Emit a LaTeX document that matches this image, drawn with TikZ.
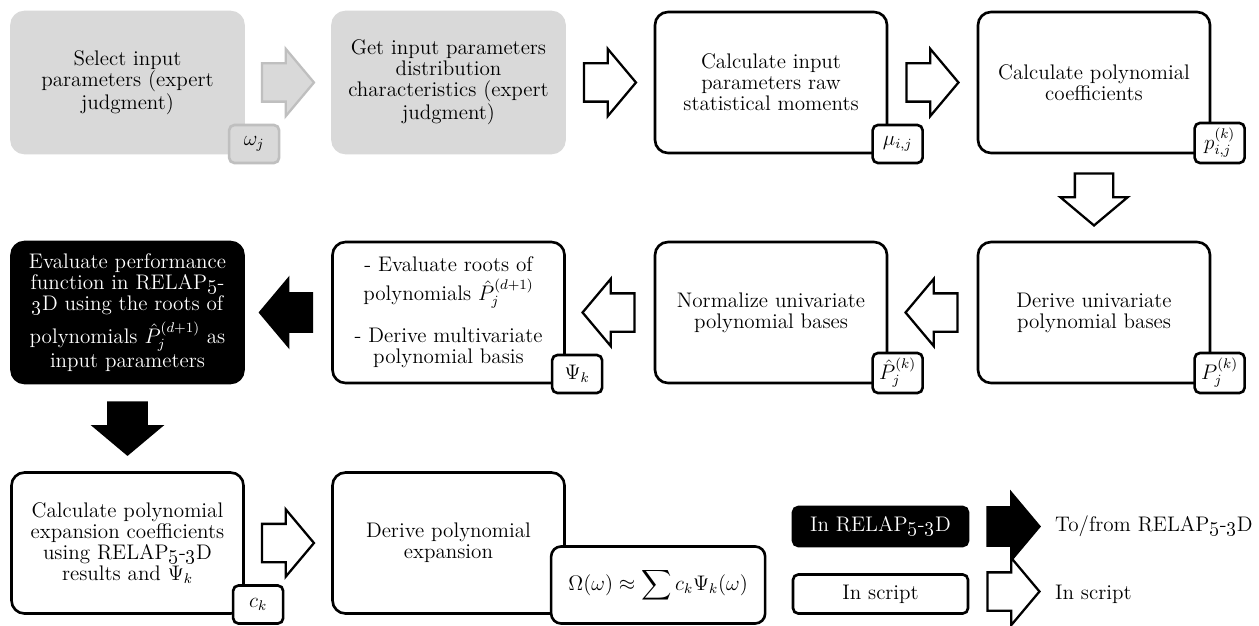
\documentclass[tikz,border=0pt]{standalone}
\usepackage{amsmath,amssymb}
\usetikzlibrary{shapes.arrows, positioning, calc}
\definecolor{boxgray}{HTML}{D9D9D9}
\definecolor{edgegray}{HTML}{BFBFBF}
\newcommand{\osn}[1]{\oldstylenums{#1}}
\newcommand{\relapname}{RELAP\osn{5}-\osn{3}D}

\begin{document}
\begin{tikzpicture}[
  font=\fontsize{12}{12}\selectfont,
  stepbox/.style={draw=black, line width=1.5pt, fill=white, rounded corners=0.26cm,
    minimum width=4.64cm, minimum height=2.82cm, align=center, inner sep=3pt},
  graybox/.style={stepbox, draw=boxgray, fill=boxgray},
  codebox/.style={stepbox, fill=black, text=white},
  tagbox/.style={draw=black, line width=1.5pt, fill=white, rounded corners=3pt,
    minimum width=1cm, minimum height=0.76cm, inner sep=3pt, anchor=south west},
  blockarr/.style={single arrow, draw=black, line width=1.3pt, fill=white,
    minimum width=1.3cm, minimum height=1.04cm, single arrow head extend=0.29cm,
    single arrow tip angle=100, inner xsep=0pt, inner ysep=0.36cm, anchor=tail},
  leftarr/.style={blockarr, shape border rotate=180},
  downarr/.style={blockarr, shape border rotate=270, inner xsep=0.36cm, inner ysep=0pt},
  codearr/.style={blockarr, fill=black},
  grayarr/.style={blockarr, draw=edgegray, fill=boxgray},
  keybox/.style={draw=black, line width=1.5pt, rounded corners=3pt,
    minimum width=3.5cm, minimum height=0.78cm, inner sep=2pt},
]

% Canvas
\fill[white] (0,0) rectangle (25.18,-12.5);
\useasboundingbox (0,0) rectangle (25.18,-12.5);

% =============================================
% Row 1: expert judgment -> moments -> coefficients
% =============================================
\node[graybox] (sel) at (2.55,-1.65)
  {Select input\\parameters (expert\\judgment)};
\node[graybox] (dist) at (8.97,-1.65)
  {Get input parameters\\distribution\\characteristics (expert\\judgment)};
\node[stepbox] (mom) at (15.42,-1.65)
  {Calculate input\\parameters raw\\statistical moments};
\node[stepbox] (coef) at (21.88,-1.65)
  {Calculate polynomial\\coefficients};

% Tags
\node[tagbox, draw=edgegray, fill=boxgray] (tomega) at ($(sel.south east)+(-0.34,-0.2)$) {$\omega_j$};
\node[tagbox] (tmu) at ($(mom.south east)+(-0.34,-0.2)$) {$\mu_{i,j}$};
\node[tagbox] (tp) at ($(coef.south east)+(-0.36,-0.2)$) {$p_{i,j}^{(k)}$};

% Arrows
\node[grayarr] (a1) at ($(sel.east)+(0.32,0)$) {};
\node[blockarr] (a2) at ($(dist.east)+(0.34,0)$) {};
\node[blockarr] (a3) at ($(mom.east)+(0.34,0)$) {};

% =============================================
% Row 2: bases -> normalize -> roots -> RELAP runs
% =============================================
\node[codebox] (eval) at (2.55,-6.25)
  {Evaluate performance\\function in RELAP\osn{5}-\\\osn{3}D using the roots of\\[3pt]polynomials $\hat{P}_j^{(d+1)}$ as\\input parameters};
\node[stepbox] (roots) at (8.97,-6.25)
  {- Evaluate roots of\\[3pt]polynomials $\hat{P}_j^{(d+1)}$\\[10pt]- Derive multivariate\\polynomial basis};
\node[stepbox] (norm) at (15.42,-6.25)
  {Normalize univariate\\polynomial bases};
\node[stepbox] (uni) at (21.88,-6.25)
  {Derive univariate\\polynomial bases};

% Tags
\node[tagbox] (tpsi) at ($(roots.south east)+(-0.3,-0.2)$) {$\Psi_k$};
\node[tagbox] (tphat) at ($(norm.south east)+(-0.34,-0.2)$) {$\hat{P}_j^{(k)}$};
\node[tagbox] (tpu) at ($(uni.south east)+(-0.36,-0.2)$) {$P_j^{(k)}$};

% Arrows
\node[downarr] (a4) at ($(coef.south)+(0,-0.36)$) {};
\node[leftarr] (a5) at ($(uni.west)+(-0.36,0)$) {};
\node[leftarr] (a6) at ($(norm.west)+(-0.36,0)$) {};
\node[leftarr, fill=black] (a7) at ($(roots.west)+(-0.36,0)$) {};

% =============================================
% Row 3: expansion coefficients -> expansion
% =============================================
\node[stepbox] (ck) at (2.55,-10.86)
  {Calculate polynomial\\expansion coefficients\\using \relapname\\results and $\Psi_k$};
\node[stepbox] (expn) at (8.97,-10.86)
  {Derive polynomial\\expansion};

\node[tagbox] (tc) at ($(ck.south east)+(-0.26,-0.2)$) {$c_k$};
\node[tagbox, minimum width=4.28cm, minimum height=1.54cm, rounded corners=0.2cm] (tomg)
  at ($(expn.south east)+(-0.32,-0.2)$)
  {$\displaystyle\Omega(\omega) \approx \sum c_k \Psi_k(\omega)$};

\node[downarr, fill=black] (a8) at ($(eval.south)+(0,-0.34)$) {};
\node[blockarr] (a9) at ($(ck.east)+(0.32,0)$) {};

% =============================================
% Legend
% =============================================
\node[keybox, fill=black, text=white] (kcode) at (17.61,-10.53) {In \relapname};
\node[keybox, fill=white] (kscript) at (17.61,-11.88) {In script};
\node[codearr] (kca) at ($(kcode.east)+(0.34,0)$) {};
\node[blockarr] (ksa) at ($(kscript.east)+(0.34,0.05)$) {};
\node[anchor=west] (kct) at ($(kca.tip)+(0.16,0)$) {To/from \relapname};
\node[anchor=west] (kst) at ($(ksa.tip)+(0.16,-0.05)$) {In script};

\end{tikzpicture}
\end{document}
